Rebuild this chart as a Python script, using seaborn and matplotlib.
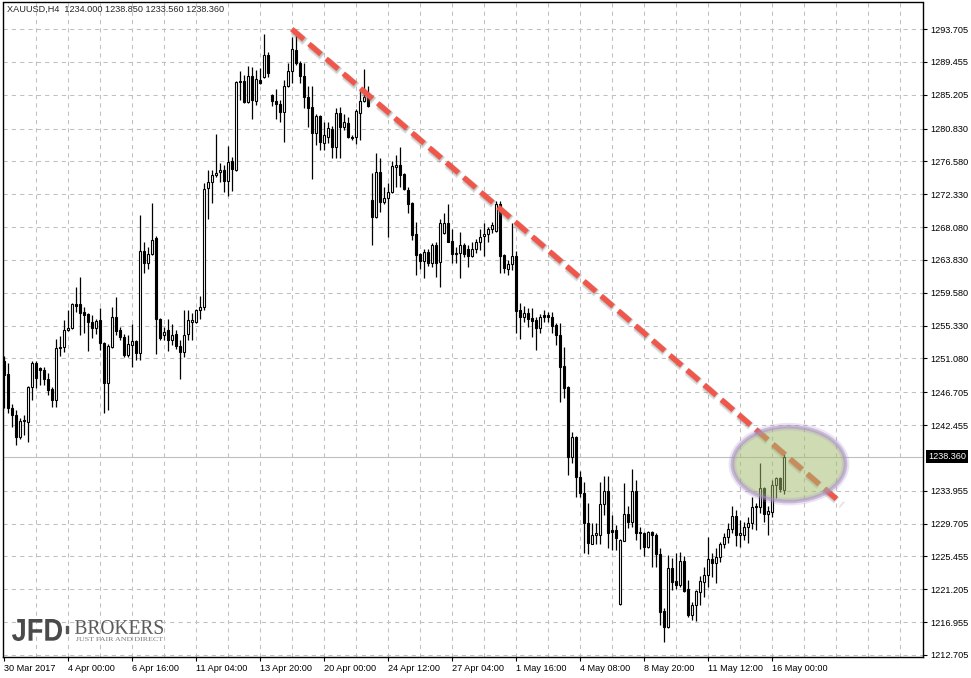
import numpy as np
import pandas as pd
import matplotlib
matplotlib.use("Agg")
import matplotlib.pyplot as plt
import matplotlib.transforms as mtransforms
from matplotlib.patches import Ellipse, Rectangle, PathPatch
from matplotlib.textpath import TextPath
from matplotlib.font_manager import FontProperties
import seaborn as sns

# XAUUSD H4 candles (one value per bar)
opens = [
    1250.8, 1249.1, 1244.7, 1243.8, 1240.9, 1243.0, 1242.9, 1247.4, 1250.5, 1249.8,
    1249.6, 1248.4, 1247.1, 1245.7, 1252.4, 1252.5, 1254.8, 1255.0, 1258.1, 1258.1,
    1257.1, 1256.8, 1255.8, 1255.0, 1256.0, 1253.1, 1247.9, 1252.6, 1256.4, 1254.7,
    1253.8, 1251.5, 1252.8, 1253.3, 1251.8, 1265.0, 1263.4, 1264.6, 1266.6, 1256.2,
    1254.1, 1254.7, 1253.5, 1254.2, 1252.7, 1251.9, 1254.2, 1255.8, 1255.8, 1257.4,
    1257.7, 1273.1, 1273.9, 1274.8, 1275.2, 1275.5, 1274.1, 1276.6, 1275.5, 1286.9,
    1287.0, 1284.3, 1287.6, 1284.4, 1287.1, 1287.5, 1290.3, 1285.2, 1284.4, 1284.0,
    1283.0, 1286.3, 1288.3, 1291.0, 1289.3, 1287.6, 1284.9, 1283.6, 1280.3, 1282.5,
    1279.0, 1279.7, 1280.8, 1278.4, 1282.8, 1281.0, 1281.5, 1279.7, 1279.7, 1282.8,
    1284.4, 1284.9, 1271.6, 1269.4, 1275.2, 1271.3, 1271.8, 1272.6, 1275.8, 1276.1,
    1274.9, 1272.9, 1271.2, 1267.2, 1264.6, 1263.7, 1264.9, 1263.4, 1265.7, 1263.5,
    1267.3, 1268.6, 1266.3, 1264.7, 1264.7, 1265.8, 1265.2, 1264.3, 1265.2, 1266.2,
    1266.9, 1267.2, 1267.8, 1267.6, 1271.1, 1264.5, 1262.7, 1263.3, 1264.3, 1257.3,
    1256.5, 1256.9, 1256.3, 1256.0, 1255.0, 1256.7, 1256.7, 1256.4, 1255.4, 1254.1,
    1250.1, 1247.4, 1238.3, 1240.9, 1235.7, 1233.7, 1229.8, 1227.1, 1228.2, 1228.2,
    1232.2, 1233.9, 1228.9, 1228.9, 1219.3, 1227.5, 1230.9, 1229.9, 1233.9, 1228.6,
    1228.5, 1226.7, 1228.6, 1228.2, 1225.8, 1218.4, 1216.3, 1223.9, 1222.3, 1221.8,
    1224.9, 1221.2, 1217.9, 1219.2, 1220.9, 1222.1, 1223.1, 1225.1, 1224.6, 1225.4,
    1227.0, 1228.0, 1229.0, 1230.7, 1228.2, 1228.2, 1229.3, 1229.8, 1232.0, 1231.9,
    1234.3, 1231.0, 1231.2, 1234.7, 1235.6, 1234.0,
]
highs = [
    1251.4, 1250.5, 1245.2, 1244.4, 1243.4, 1243.8, 1247.5, 1250.8, 1250.8, 1250.0,
    1250.0, 1249.2, 1247.4, 1253.6, 1254.0, 1256.1, 1257.4, 1258.2, 1260.3, 1261.6,
    1257.7, 1257.0, 1256.7, 1256.2, 1257.6, 1253.2, 1252.9, 1257.7, 1259.0, 1255.1,
    1254.3, 1254.1, 1255.5, 1253.5, 1269.6, 1266.2, 1265.5, 1271.2, 1266.9, 1256.3,
    1255.2, 1256.2, 1255.5, 1254.7, 1253.5, 1257.4, 1257.4, 1257.0, 1257.5, 1259.2,
    1273.8, 1275.5, 1275.5, 1280.1, 1276.4, 1276.1, 1278.6, 1277.1, 1287.0, 1288.3,
    1287.7, 1288.9, 1288.8, 1288.4, 1288.7, 1293.1, 1290.7, 1285.3, 1286.0, 1284.5,
    1287.1, 1289.3, 1292.7, 1292.9, 1289.6, 1289.3, 1286.3, 1286.3, 1282.7, 1282.6,
    1281.7, 1281.7, 1281.2, 1283.5, 1283.6, 1282.7, 1282.3, 1280.0, 1283.4, 1286.0,
    1288.5, 1286.3, 1275.1, 1277.7, 1277.0, 1273.3, 1273.8, 1276.6, 1277.4, 1278.4,
    1275.1, 1273.3, 1271.3, 1268.7, 1264.7, 1265.3, 1265.2, 1266.0, 1266.2, 1269.1,
    1269.9, 1271.1, 1267.8, 1265.5, 1267.4, 1266.0, 1265.8, 1266.2, 1266.5, 1267.8,
    1268.6, 1268.1, 1268.7, 1271.5, 1271.4, 1264.6, 1263.8, 1268.6, 1265.0, 1258.2,
    1257.9, 1257.6, 1257.6, 1256.4, 1256.8, 1257.4, 1257.1, 1257.1, 1255.7, 1255.7,
    1252.6, 1247.5, 1241.6, 1241.0, 1236.5, 1235.1, 1232.4, 1229.8, 1229.8, 1235.1,
    1235.9, 1235.9, 1230.8, 1229.5, 1227.7, 1235.0, 1232.0, 1236.8, 1235.3, 1229.3,
    1228.6, 1228.7, 1228.8, 1228.5, 1226.6, 1218.8, 1225.6, 1225.2, 1225.9, 1226.0,
    1225.5, 1222.4, 1219.6, 1221.1, 1222.9, 1224.1, 1228.0, 1225.9, 1226.5, 1227.3,
    1228.5, 1229.8, 1232.0, 1231.5, 1230.2, 1229.9, 1230.6, 1233.1, 1232.4, 1237.5,
    1234.4, 1232.0, 1235.3, 1235.7, 1235.7, 1238.85,
]
lows = [
    1244.7, 1244.0, 1242.2, 1239.9, 1240.6, 1241.2, 1240.3, 1245.7, 1247.3, 1247.6,
    1247.6, 1246.4, 1244.8, 1244.8, 1251.4, 1251.9, 1254.6, 1254.9, 1257.1, 1254.1,
    1254.4, 1252.0, 1253.7, 1254.2, 1252.2, 1244.0, 1244.4, 1252.4, 1254.1, 1253.5,
    1251.3, 1251.3, 1250.0, 1250.9, 1250.9, 1262.1, 1262.6, 1264.5, 1251.7, 1253.5,
    1253.5, 1252.0, 1252.8, 1252.3, 1248.4, 1251.3, 1253.4, 1253.4, 1255.7, 1256.2,
    1257.4, 1269.1, 1271.2, 1274.6, 1273.9, 1272.6, 1272.1, 1272.7, 1275.3, 1284.5,
    1284.1, 1284.1, 1282.1, 1283.9, 1286.6, 1287.4, 1287.5, 1283.7, 1282.1, 1281.7,
    1279.1, 1286.2, 1286.7, 1289.0, 1286.7, 1283.5, 1281.0, 1274.3, 1278.7, 1278.1,
    1278.1, 1279.0, 1277.0, 1277.0, 1277.0, 1280.6, 1279.6, 1279.3, 1278.8, 1279.3,
    1284.3, 1283.6, 1265.8, 1269.3, 1270.0, 1271.0, 1266.8, 1272.5, 1273.3, 1273.3,
    1272.9, 1269.9, 1266.4, 1261.9, 1262.6, 1261.5, 1263.0, 1262.9, 1261.6, 1260.3,
    1267.2, 1266.1, 1263.4, 1263.4, 1261.5, 1264.2, 1262.9, 1264.2, 1264.7, 1265.1,
    1264.3, 1266.2, 1267.3, 1267.4, 1262.1, 1262.1, 1261.9, 1262.5, 1254.4, 1253.6,
    1255.8, 1255.2, 1253.8, 1252.2, 1254.4, 1255.8, 1255.8, 1254.4, 1252.8, 1245.4,
    1246.0, 1236.0, 1237.5, 1233.1, 1233.1, 1225.9, 1225.8, 1227.0, 1227.0, 1227.0,
    1230.8, 1226.5, 1226.3, 1226.3, 1219.2, 1227.4, 1229.1, 1229.3, 1227.6, 1226.4,
    1225.5, 1226.6, 1224.1, 1224.1, 1216.6, 1214.4, 1216.2, 1221.1, 1221.2, 1221.5,
    1220.9, 1217.6, 1217.2, 1217.1, 1219.2, 1220.2, 1221.5, 1222.8, 1222.0, 1224.7,
    1226.5, 1227.2, 1228.5, 1226.8, 1226.7, 1227.6, 1227.2, 1229.0, 1228.9, 1231.1,
    1229.9, 1228.2, 1230.6, 1233.0, 1233.8, 1233.56,
]
closes = [
    1248.9, 1244.7, 1243.8, 1240.9, 1243.0, 1243.1, 1247.4, 1250.5, 1248.6, 1249.6,
    1248.4, 1247.0, 1245.7, 1252.4, 1252.6, 1254.8, 1255.0, 1258.1, 1257.9, 1257.0,
    1256.7, 1255.8, 1255.0, 1255.9, 1253.1, 1247.9, 1252.7, 1256.4, 1254.6, 1253.8,
    1251.5, 1252.9, 1253.3, 1251.8, 1265.0, 1263.4, 1264.6, 1266.4, 1256.2, 1253.7,
    1254.5, 1253.5, 1254.1, 1252.7, 1251.9, 1254.1, 1256.1, 1256.1, 1257.4, 1257.7,
    1273.0, 1273.9, 1274.8, 1275.1, 1275.5, 1274.1, 1276.5, 1275.6, 1286.9, 1287.0,
    1284.3, 1287.6, 1284.5, 1287.2, 1286.7, 1290.3, 1288.0, 1284.4, 1284.0, 1283.0,
    1286.3, 1288.3, 1291.1, 1289.3, 1287.6, 1284.9, 1283.5, 1280.3, 1282.5, 1279.1,
    1280.0, 1280.9, 1278.4, 1282.8, 1281.0, 1281.7, 1279.7, 1279.6, 1283.1, 1284.4,
    1284.9, 1283.7, 1269.4, 1275.2, 1271.3, 1271.8, 1272.6, 1276.0, 1276.1, 1274.8,
    1273.0, 1271.1, 1267.1, 1264.5, 1263.7, 1264.9, 1263.4, 1265.7, 1263.4, 1268.6,
    1268.6, 1266.2, 1264.6, 1264.6, 1265.8, 1264.6, 1264.3, 1265.2, 1266.2, 1266.8,
    1267.2, 1267.8, 1268.4, 1271.1, 1264.3, 1262.8, 1263.3, 1264.3, 1257.2, 1256.5,
    1256.9, 1256.2, 1255.9, 1255.0, 1256.5, 1256.4, 1256.4, 1255.3, 1254.1, 1250.0,
    1247.3, 1238.3, 1240.9, 1235.7, 1233.7, 1229.8, 1227.2, 1228.2, 1228.5, 1232.2,
    1233.9, 1228.5, 1228.6, 1227.8, 1227.6, 1230.9, 1229.9, 1233.9, 1228.5, 1228.5,
    1226.7, 1228.6, 1228.2, 1225.8, 1218.3, 1216.3, 1223.9, 1222.1, 1221.8, 1224.9,
    1221.0, 1217.9, 1219.2, 1221.0, 1222.3, 1223.1, 1225.1, 1224.6, 1225.4, 1227.0,
    1228.0, 1229.0, 1230.7, 1228.2, 1228.5, 1229.3, 1229.8, 1231.9, 1231.9, 1234.3,
    1231.0, 1231.3, 1234.7, 1235.6, 1234.2, 1238.36,
]

time_labels = ["30 Mar 2017", "4 Apr 00:00", "6 Apr 16:00", "11 Apr 04:00",
               "13 Apr 20:00", "20 Apr 00:00", "24 Apr 12:00", "27 Apr 04:00",
               "1 May 16:00", "4 May 08:00", "8 May 20:00", "11 May 12:00",
               "16 May 00:00"]
price_ticks = [1293.705, 1289.455, 1285.205, 1280.830, 1276.580, 1272.330,
               1268.080, 1263.830, 1259.580, 1255.330, 1251.080, 1246.705,
               1242.455, 1233.955, 1229.705, 1225.455, 1221.205, 1216.955,
               1212.705]
last_price = 1238.36
header = "XAUUSD,H4  1234.000 1238.850 1233.560 1238.360"

# hand-drawn resistance line (bar index, price) and the highlighted zone
trend_bars = [72, 209.25]
trend_prices = [1293.7, 1232.4]
zone_bar, zone_price = 196.3, 1237.4
zone_w, zone_h = 28.3, 9.7

sns.set_style("white")
plt.rcParams['font.family'] = ['Liberation Sans', 'DejaVu Sans']

df = pd.DataFrame({'open': opens, 'high': highs, 'low': lows, 'close': closes})
df['bar'] = np.arange(len(df))
up = df['close'] >= df['open']

W, H = 971, 678
fig = plt.figure(figsize=(W / 100, H / 100), dpi=100)
ax = fig.add_axes([2.5 / W, 1 - 657 / H, 920.5 / W, 654.5 / H])

grid_c = '#c0c0c0'
for p in price_ticks:
    ax.axhline(p, color=grid_c, lw=0.75, dashes=(4, 4), zorder=0)
for b in range(8, 230, 8):
    ax.axvline(b, color=grid_c, lw=0.75, dashes=(4, 4), zorder=0)
ax.axhline(last_price, color=grid_c, lw=0.8, zorder=0.5)

# candles
ax.vlines(df['bar'], df['low'], df['high'], color='black', lw=0.9, zorder=2)
ax.bar(df['bar'], (df['close'] - df['open']).abs().clip(lower=0.06),
       bottom=np.minimum(df['open'], df['close']), width=0.58,
       color=np.where(up, 'white', 'black'), edgecolor='black',
       linewidth=0.8, zorder=3)

# trendline with soft shadow
for dx, dy, a, w in [(1.5, -2.5, 0.22, 6.0), (1.0, -1.5, 0.25, 4.6)]:
    shadow = mtransforms.offset_copy(ax.transData, fig=fig, x=dx, y=dy, units='dots')
    ax.plot(trend_bars, trend_prices, color='#707070', alpha=a, lw=w,
            dashes=(11.4 / w, 4.9 / w), dash_capstyle='butt', transform=shadow,
            zorder=4)
sns.lineplot(x=trend_bars, y=trend_prices, color='#f0564a', linewidth=3.8,
             ax=ax, zorder=5)
tl = ax.lines[-1]
tl.set_dashes((3.0, 1.3))
tl.set_dash_capstyle('butt')

# highlighted zone
ax.add_patch(Ellipse((zone_bar, zone_price), zone_w, zone_h,
                     facecolor=(0.64, 0.74, 0.43, 0.52), edgecolor='none', zorder=6))
ax.add_patch(Ellipse((zone_bar, zone_price), zone_w, zone_h, facecolor='none',
                     edgecolor=(0.66, 0.55, 0.78, 0.22), lw=5.5, zorder=6))
ax.add_patch(Ellipse((zone_bar, zone_price), zone_w, zone_h, facecolor='none',
                     edgecolor=(0.66, 0.55, 0.78, 0.5), lw=2.6, zorder=6))

ax.set_xlim(-0.3, 229.8)
ax.set_ylim(1212.44, 1297.14)
ax.set_xticks(np.arange(0, 16 * len(time_labels), 16))
ax.set_xticklabels(time_labels, ha='left')
ax.yaxis.tick_right()
ax.set_yticks(price_ticks)
ax.set_yticklabels([f"{p:.3f}" for p in price_ticks])
ax.tick_params(axis='x', bottom=True, top=False, direction='out', length=3,
               width=0.8, labelsize=6.6, pad=2, colors='black')
ax.tick_params(axis='y', left=False, right=True, labelleft=False, labelright=True,
               direction='out', length=3, width=0.8, labelsize=6.6, pad=2,
               colors='black')
ax.set_xlabel('')
ax.set_ylabel('')
for s in ax.spines.values():
    s.set_visible(True)
    s.set_color('black')
    s.set_linewidth(1.0)

# current price tag
ax.text(1.0055, last_price, f"{last_price:.3f}", transform=ax.get_yaxis_transform(),
        color='white', fontsize=6.6, va='center', ha='left', zorder=10,
        bbox=dict(boxstyle='square,pad=0.2', fc='black', ec='none'))

fig.text(7 / W, 1 - 9 / H, header, fontsize=6.6, va='center', ha='left')


def logo_word(text, left, top, right, bottom, prop, color):
    # text outline stretched into a pixel box of the picture
    tp = TextPath((0, 0), text, size=100, prop=prop)
    bb = tp.get_extents()
    tr = (mtransforms.Affine2D().translate(-bb.x0, -bb.y0)
          .scale((right - left) / bb.width / W, (bottom - top) / bb.height / H)
          .translate(left / W, 1 - bottom / H))
    fig.add_artist(PathPatch(tr.transform_path(tp), facecolor=color, lw=0,
                             transform=fig.transFigure))


logo_word('JFD', 12, 619, 62, 641, FontProperties(family='Liberation Sans', weight='bold'), '#4a4a4a')
fig.add_artist(Rectangle((65.5 / W, 1 - 633 / H), 2.2 / W, 7 / H,
                         transform=fig.transFigure, color='#555555'))
logo_word('BROKERS', 75, 620, 163, 634, FontProperties(family='Liberation Serif'), '#5a5a5a')
logo_word('JUST FAIR AND DIRECT', 76, 637, 163, 641, FontProperties(family='Liberation Serif'), '#7a7a7a')

fig.savefig('out.png', dpi=100)
